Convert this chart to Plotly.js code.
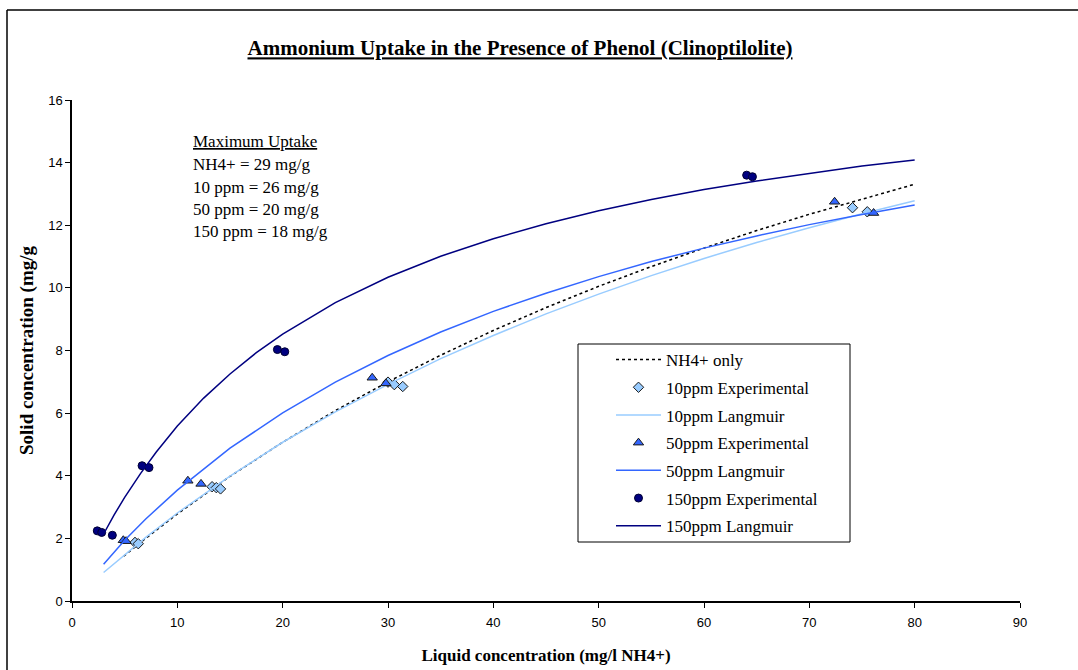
<!DOCTYPE html>
<html>
<head>
<meta charset="utf-8">
<script src="https://cdn.plot.ly/plotly-3.0.1.min.js"></script>
<style>
html,body{margin:0;padding:0;background:#fff;overflow:hidden;}
#chart{width:1078px;height:670px;}
</style>
</head>
<body>
<div id="chart"></div>
<script>
// NH4+ only (dotted fit)
const xNH4 = [4.9, 7, 10, 15, 20, 25, 30, 35, 40, 45, 50, 55, 60, 65, 70, 75, 80];
const yNH4 = [1.43, 2.0, 2.78, 3.98, 5.07, 6.08, 7.0, 7.85, 8.64, 9.37, 10.05, 10.68, 11.27, 11.83, 12.35, 12.84, 13.31];

// 10 ppm
const x10Exp = [5.98, 6.29, 13.3, 13.7, 14.1, 30.0, 30.6, 31.4, 74.1, 75.5];
const y10Exp = [1.87, 1.83, 3.65, 3.62, 3.58, 6.99, 6.91, 6.85, 12.56, 12.43];
const x10Lang = [3, 5, 7, 10, 15, 20, 25, 30, 35, 40, 45, 50, 55, 60, 65, 70, 75, 80];
const y10Lang = [0.91, 1.48, 2.03, 2.81, 3.99, 5.07, 6.04, 6.92, 7.74, 8.48, 9.17, 9.80, 10.39, 10.94, 11.45, 11.92, 12.37, 12.78];

// 50 ppm
const x50Exp = [4.87, 5.13, 11.0, 12.25, 28.5, 29.8, 72.4, 76.1];
const y50Exp = [1.94, 1.91, 3.84, 3.74, 7.13, 6.95, 12.75, 12.39];
const x50Lang = [3, 5, 7, 10, 15, 20, 25, 30, 35, 40, 45, 50, 55, 60, 65, 70, 75, 80];
const y50Lang = [1.17, 1.94, 2.62, 3.54, 4.88, 6.01, 6.99, 7.84, 8.59, 9.25, 9.83, 10.36, 10.84, 11.27, 11.66, 12.02, 12.34, 12.65];

// 150 ppm
const x150Exp = [2.40, 2.82, 3.83, 6.65, 7.31, 19.5, 20.2, 64.05, 64.6];
const y150Exp = [2.24, 2.19, 2.10, 4.32, 4.26, 8.03, 7.96, 13.60, 13.55];
const x150Lang = [3, 4, 5, 6.5, 8, 10, 12.5, 15, 17.5, 20, 25, 30, 35, 40, 45, 50, 55, 60, 65, 70, 75, 80];
const y150Lang = [2.14, 2.75, 3.31, 4.07, 4.76, 5.59, 6.48, 7.25, 7.93, 8.52, 9.53, 10.34, 11.01, 11.57, 12.05, 12.46, 12.82, 13.14, 13.41, 13.66, 13.89, 14.08];

const seriesNames = ['NH4+ only', '10ppm Experimental', '10ppm Langmuir', '50ppm Experimental', '50ppm Langmuir', '150ppm Experimental', '150ppm Langmuir'];

const titleText = 'Ammonium Uptake in the Presence of Phenol (Clinoptilolite)';
const xTitle = 'Liquid concentration (mg/l NH4+)';
const yTitle = 'Solid concentration (mg/g';
const noteLines = ['Maximum Uptake', 'NH4+ = 29 mg/g', '10 ppm = 26 mg/g', '50 ppm = 20 mg/g', '150 ppm = 18 mg/g'];

const SERIF = '"Liberation Serif", "Times New Roman", serif';
const SANS = '"Liberation Sans", Arial, sans-serif';

const C10 = '#99CCFF', C50 = '#3366FF', C150 = '#000080';

const traces = [
  {x: xNH4, y: yNH4, mode: 'lines', name: seriesNames[0], legendgroup: 'g0',
   line: {color: '#000000', width: 1.5, dash: 'dot'}},
  {x: x10Exp, y: y10Exp, mode: 'markers', name: seriesNames[1], legendgroup: 'g1',
   marker: {symbol: 'diamond', size: 8, color: C10, line: {color: '#1a1a1a', width: 1}}},
  {x: x10Lang, y: y10Lang, mode: 'lines', name: seriesNames[2], legendgroup: 'g2',
   line: {color: C10, width: 1.5}},
  {x: x50Exp, y: y50Exp, mode: 'markers', name: seriesNames[3], legendgroup: 'g3',
   marker: {symbol: 'triangle-up', size: 9, color: C50, line: {color: '#1a1a1a', width: 1}}},
  {x: x50Lang, y: y50Lang, mode: 'lines', name: seriesNames[4], legendgroup: 'g4',
   line: {color: C50, width: 1.5}},
  {x: x150Exp, y: y150Exp, mode: 'markers', name: seriesNames[5], legendgroup: 'g5',
   marker: {symbol: 'circle', size: 8, color: C150, line: {color: '#000033', width: 1}}},
  {x: x150Lang, y: y150Lang, mode: 'lines', name: seriesNames[6], legendgroup: 'g6',
   line: {color: C150, width: 1.5}}
];

const ML = 72, MR = 58, MT = 100, MB = 69, W = 1078, H = 670;
const PW = W - ML - MR, PH = H - MT - MB;
function px2paperX(px){ return (px - ML) / PW; }
function py2paperY(py){ return (H - MB - py) / PH; }

const noteY = [141.5, 164.5, 187, 209.5, 232];
const annotations = noteLines.map((t, i) => ({
  text: t, xref: 'paper', yref: 'paper', x: px2paperX(191), y: py2paperY(noteY[i]),
  xanchor: 'left', yanchor: 'middle', showarrow: false,
  font: {family: SERIF, size: 17, color: '#000', lineposition: i === 0 ? 'under' : 'none'}
}));

const layout = {
  width: W, height: H,
  margin: {l: ML, r: MR, t: MT, b: MB, pad: 0},
  paper_bgcolor: '#fff', plot_bgcolor: '#fff',
  showlegend: true,
  title: {
    text: '<b>' + titleText + '</b>',
    font: {family: SERIF, size: 21, color: '#000', lineposition: 'under'},
    xref: 'paper', x: px2paperX(520), xanchor: 'center',
    yref: 'container', y: 1 - 48 / H, yanchor: 'middle'
  },
  xaxis: {
    range: [0, 90], dtick: 10, tick0: 0,
    ticks: 'outside', ticklen: 5, tickwidth: 1, tickcolor: '#000',
    showline: true, linecolor: '#000', linewidth: 1.5,
    showgrid: false, zeroline: false, ticklabelstandoff: 4,
    tickfont: {family: SANS, size: 13, color: '#000'},
    title: {text: '<b>' + xTitle + '</b>', font: {family: SERIF, size: 17, color: '#000'}, standoff: 20}
  },
  yaxis: {
    range: [0, 16], dtick: 2, tick0: 0,
    ticks: 'outside', ticklen: 5, tickwidth: 1, tickcolor: '#000',
    showline: true, linecolor: '#000', linewidth: 1.5,
    showgrid: false, zeroline: false,
    tickfont: {family: SANS, size: 13, color: '#000'},
    title: {text: '<b>' + yTitle + '</b>', font: {family: SERIF, size: 19, color: '#000'}, standoff: 10}
  },
  legend: {
    x: px2paperX(611), y: py2paperY(342), xanchor: 'left', yanchor: 'top',
    bgcolor: 'rgba(0,0,0,0)', borderwidth: 0,
    font: {family: SERIF, size: 17, color: '#000'},
    traceorder: 'grouped', tracegroupgap: 2.6, itemwidth: 45,
    itemsizing: 'trace'
  },
  annotations: annotations,
  shapes: [
    {type: 'line', xref: 'paper', yref: 'paper', x0: px2paperX(7), x1: px2paperX(7), y0: py2paperY(10), y1: py2paperY(700),
     line: {color: '#000', width: 1.5}},
    {type: 'line', xref: 'paper', yref: 'paper', x0: px2paperX(7), x1: px2paperX(1100), y0: py2paperY(10), y1: py2paperY(10),
     line: {color: '#000', width: 1.5}},
    {type: 'rect', xref: 'paper', yref: 'paper', layer: 'above',
     x0: px2paperX(578), x1: px2paperX(850), y0: py2paperY(542), y1: py2paperY(344),
     fillcolor: '#fff', line: {color: '#000', width: 1}}
  ]
};

Plotly.newPlot('chart', traces, layout, {displayModeBar: false, responsive: false});
</script>
</body>
</html>
